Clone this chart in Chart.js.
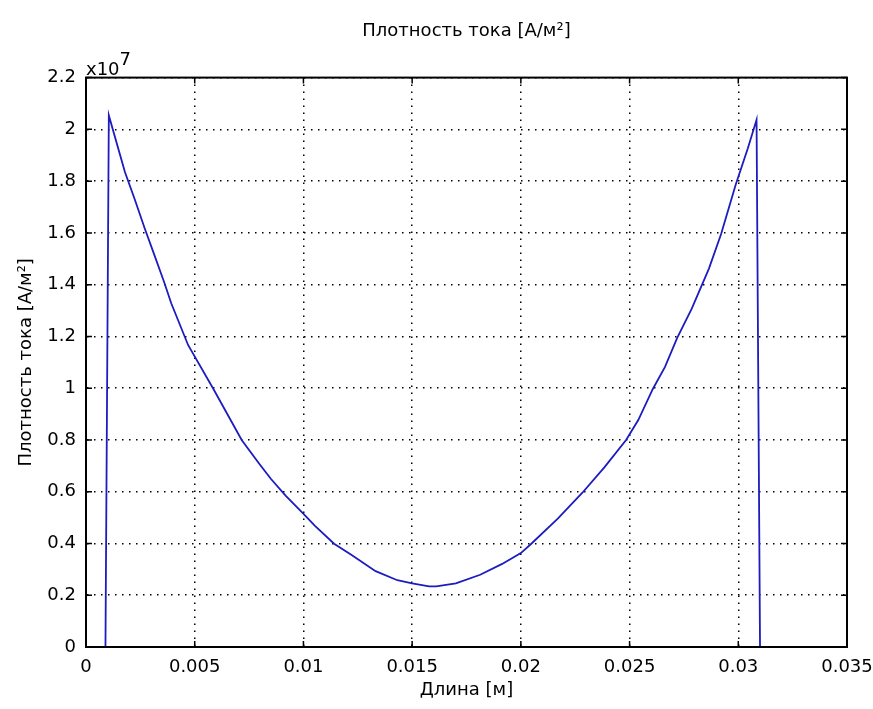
<!DOCTYPE html>
<html>
<head>
<meta charset="utf-8">
<script src="https://cdn.jsdelivr.net/npm/chart.js@4"></script>
<style>
  html, body { margin: 0; padding: 0; background: #fff; }
  #wrap { width: 873px; height: 709px; }
</style>
</head>
<body>
<div id="wrap"><canvas id="graphique-densite" width="873" height="709"></canvas></div>
<script>
// Длина [м]
const longueurs = [0.000895, 0.00105, 0.00179, 0.00224, 0.00269, 0.00313, 0.00358, 0.00392, 0.0047, 0.00586,
    0.0066, 0.00716, 0.00795, 0.0085, 0.00918, 0.00996, 0.01052, 0.01141, 0.0122, 0.01332,
    0.01432, 0.015, 0.01578, 0.01611, 0.01701, 0.01813, 0.01914, 0.02, 0.02048, 0.02171,
    0.02283, 0.02384, 0.02484, 0.0254, 0.02607, 0.02663, 0.02719, 0.02786, 0.02865, 0.02921,
    0.02988, 0.03044, 0.03084, 0.031];
// Плотность тока, x10^7 А/м2
const densites = [0, 2.054, 1.835, 1.73, 1.62, 1.518, 1.413, 1.328, 1.166, 0.997,
    0.885, 0.8, 0.71, 0.65, 0.585, 0.518, 0.469, 0.399, 0.356, 0.293,
    0.258, 0.246, 0.234, 0.234, 0.246, 0.279, 0.321, 0.363, 0.399, 0.497,
    0.596, 0.694, 0.8, 0.877, 0.997, 1.082, 1.194, 1.307, 1.462, 1.596,
    1.786, 1.927, 2.037, 0];

const etiquettesX = ['0', '0.005', '0.01', '0.015', '0.02', '0.025', '0.03', '0.035'];
const etiquettesY = ['0', '0.2', '0.4', '0.6', '0.8', '1', '1.2', '1.4', '1.6', '1.8', '2', '2.2'];

const police = 'DejaVu Sans, Verdana, sans-serif';

// cadre, petites graduations internes et facteur x10^7
const cadre = {
    id: 'cadre',
    afterDraw(chart) {
        const ctx = chart.ctx;
        const a = chart.chartArea;
        const sx = chart.scales.x;
        const sy = chart.scales.y;
        ctx.save();
        ctx.strokeStyle = '#000';
        ctx.lineWidth = 1.5;
        ctx.beginPath();
        sx.ticks.forEach(t => {
            const px = sx.getPixelForValue(t.value);
            ctx.moveTo(px, a.bottom); ctx.lineTo(px, a.bottom - 6);
            ctx.moveTo(px, a.top); ctx.lineTo(px, a.top + 6);
        });
        sy.ticks.forEach(t => {
            const py = sy.getPixelForValue(t.value);
            ctx.moveTo(a.left, py); ctx.lineTo(a.left + 6, py);
            ctx.moveTo(a.right, py); ctx.lineTo(a.right - 6, py);
        });
        ctx.stroke();
        ctx.lineWidth = 2;
        ctx.strokeRect(a.left, a.top, a.right - a.left, a.bottom - a.top);

        ctx.fillStyle = '#000';
        ctx.textBaseline = 'alphabetic';
        ctx.textAlign = 'left';
        ctx.font = '18px ' + police;
        ctx.fillText('x10', a.left, a.top - 3);
        const w = ctx.measureText('x10').width;
        ctx.fillText('7', a.left + w, a.top - 13);
        ctx.restore();
    }
};

new Chart(document.getElementById('graphique-densite'), {
    type: 'scatter',
    data: {
        datasets: [{
            label: 'Плотность тока',
            data: longueurs.map((x, i) => ({ x: x, y: densites[i] })),
            showLine: true,
            borderColor: '#1c1cc0',
            borderWidth: 1.8,
            pointRadius: 0,
            tension: 0
        }]
    },
    options: {
        responsive: false,
        animation: false,
        layout: {
            padding: { left: 0, right: 26, top: 0, bottom: 0 }
        },
        plugins: {
            legend: { display: false },
            tooltip: { enabled: false },
            title: {
                display: true,
                fullSize: false,
                text: 'Плотность тока [А/м²]',
                color: '#000',
                font: { family: police, size: 18, weight: 'normal' },
                padding: { top: 21, bottom: 35 }
            }
        },
        scales: {
            x: {
                type: 'linear',
                min: 0,
                max: 0.035,
                afterFit(scale) {
                    scale.height = 62;
                    scale.paddingLeft = 0;
                    scale.paddingRight = 0;
                },
                ticks: {
                    stepSize: 0.005,
                    color: '#000',
                    padding: 10,
                    font: { family: police, size: 18 },
                    callback: (v, i) => etiquettesX[i]
                },
                grid: {
                    color: '#000',
                    lineWidth: 1.5,
                    drawTicks: false
                },
                border: { display: true, color: '#000', width: 2, dash: [1.5, 5.5] },
                title: {
                    display: true,
                    text: 'Длина [м]',
                    color: '#000',
                    font: { family: police, size: 18 },
                    padding: { top: 0, bottom: 8 }
                }
            },
            y: {
                min: 0,
                max: 2.2,
                afterFit(scale) {
                    scale.width = 86;
                    scale.paddingTop = 0;
                    scale.paddingBottom = 0;
                },
                ticks: {
                    stepSize: 0.2,
                    color: '#000',
                    padding: 10,
                    font: { family: police, size: 18 },
                    callback: (v, i) => etiquettesY[i]
                },
                grid: {
                    color: '#000',
                    lineWidth: 1.5,
                    drawTicks: false
                },
                border: { display: true, color: '#000', width: 2, dash: [1.5, 5.5] },
                title: {
                    display: true,
                    text: 'Плотность тока [А/м²]',
                    color: '#000',
                    font: { family: police, size: 18 },
                    padding: { top: 16, bottom: 0 }
                }
            }
        }
    },
    plugins: [cadre]
});
</script>
</body>
</html>
